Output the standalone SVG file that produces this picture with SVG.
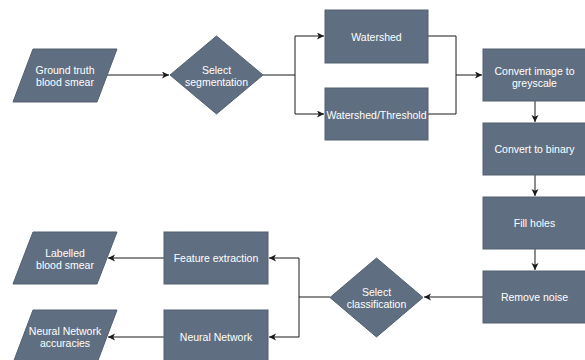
<svg xmlns="http://www.w3.org/2000/svg" width="585" height="360" viewBox="0 0 585 360">
<defs>
<style>
.n{fill:#5f6f81;stroke:#52616f;stroke-width:1}
.t{fill:#ffffff;font-family:"Liberation Sans",Arial,Helvetica,sans-serif;font-size:10.5px;text-anchor:middle;dominant-baseline:central}
.c{fill:none;stroke:#1a1a1a;stroke-width:1}
</style>
<marker id="ah" markerWidth="8" markerHeight="8" refX="7" refY="3.5" orient="auto" markerUnits="userSpaceOnUse">
<path d="M0,0 L7,3.5 L0,7 L1.8,3.5 z" fill="#1a1a1a"/>
</marker>
</defs>
<rect width="585" height="360" fill="#ffffff"/>
<g id="connectors">
<path class="c" d="M107,75 H169" marker-end="url(#ah)"/>
<path class="c" d="M263,75 H295 M295,36 V114"/>
<path class="c" d="M295,36 H324" marker-end="url(#ah)"/>
<path class="c" d="M295,114 H324" marker-end="url(#ah)"/>
<path class="c" d="M428,36 H456 V114 H428"/>
<path class="c" d="M456,75 H482" marker-end="url(#ah)"/>
<path class="c" d="M535,101 V122" marker-end="url(#ah)"/>
<path class="c" d="M535,175 V196" marker-end="url(#ah)"/>
<path class="c" d="M535,249 V270" marker-end="url(#ah)"/>
<path class="c" d="M483,297 H424" marker-end="url(#ah)"/>
<path class="c" d="M330,297 H299 M299,258 V337"/>
<path class="c" d="M299,258 H269" marker-end="url(#ah)"/>
<path class="c" d="M299,337 H269" marker-end="url(#ah)"/>
<path class="c" d="M164,258 H108" marker-end="url(#ah)"/>
<path class="c" d="M164,337 H108" marker-end="url(#ah)"/>
</g>
<g id="ground-truth">
<polygon class="n" points="33,49 117,49 97,102 13,102"/>
<text class="t" x="65" y="70">Ground truth</text>
<text class="t" x="65" y="82">blood smear</text>
</g>
<g id="select-segmentation">
<polygon class="n" points="216.5,36 263,75 216.5,114 170,75"/>
<text class="t" x="216.5" y="70">Select</text>
<text class="t" x="216.5" y="82">segmentation</text>
</g>
<g id="watershed">
<rect class="n" x="325" y="10" width="103" height="53"/>
<text class="t" x="376.5" y="36.5">Watershed</text>
</g>
<g id="watershed-threshold">
<rect class="n" x="325" y="88" width="103" height="52"/>
<text class="t" x="376.5" y="114.5">Watershed/Threshold</text>
</g>
<g id="convert-greyscale">
<rect class="n" x="483" y="49" width="103" height="52"/>
<text class="t" x="534.5" y="71">Convert image to</text>
<text class="t" x="534.5" y="82.5">greyscale</text>
</g>
<g id="convert-binary">
<rect class="n" x="483" y="123" width="103" height="52"/>
<text class="t" x="534.5" y="149">Convert to binary</text>
</g>
<g id="fill-holes">
<rect class="n" x="483" y="197" width="103" height="52"/>
<text class="t" x="534.5" y="223">Fill holes</text>
</g>
<g id="remove-noise">
<rect class="n" x="483" y="271" width="103" height="52"/>
<text class="t" x="534.5" y="297">Remove noise</text>
</g>
<g id="select-classification">
<polygon class="n" points="376.5,258 423,297.5 376.5,337 330,297.5"/>
<text class="t" x="376.5" y="292">Select</text>
<text class="t" x="376.5" y="304">classification</text>
</g>
<g id="feature-extraction">
<rect class="n" x="164" y="232" width="104" height="52"/>
<text class="t" x="216" y="258">Feature extraction</text>
</g>
<g id="neural-network">
<rect class="n" x="164" y="310" width="104" height="53"/>
<text class="t" x="216" y="337">Neural Network</text>
</g>
<g id="labelled-blood-smear">
<polygon class="n" points="33,232 117,232 97,284 13,284"/>
<text class="t" x="65" y="253">Labelled</text>
<text class="t" x="65" y="265">blood smear</text>
</g>
<g id="nn-accuracies">
<polygon class="n" points="33,310 117,310 97,363 13,363"/>
<text class="t" x="65" y="331">Neural Network</text>
<text class="t" x="65" y="343">accuracies</text>
</g>
</svg>
